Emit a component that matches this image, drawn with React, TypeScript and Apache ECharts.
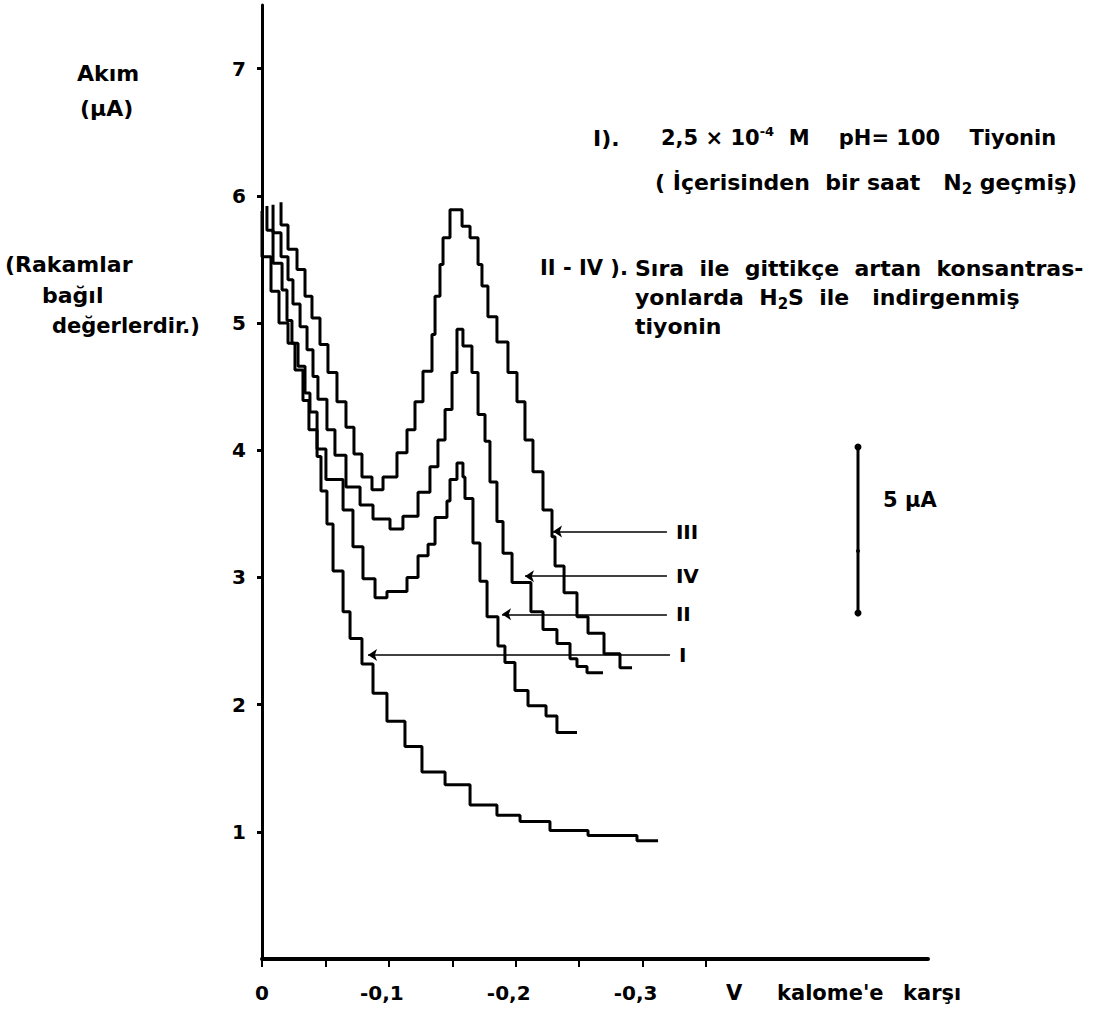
import { useEffect, useRef } from "react";
import * as echarts from "echarts";

const FONT = "DejaVu Sans";

// Axis ticks and labels
const yTickValues = [1, 2, 3, 4, 5, 6, 7];
const xTickValues = [0, -0.05, -0.1, -0.15, -0.2, -0.25, -0.3, -0.35];
const xLabelValues = [0, -0.1, -0.2, -0.3];

// Staircase polarograms: each point = (start potential of a plateau, current level of that plateau)
const curveI_V = [0, 0, -0.0071, -0.0134, -0.0205, -0.026, -0.0323, -0.037, -0.0434, -0.0465, -0.0512, -0.056, -0.0639, -0.0694, -0.0788, -0.0875, -0.0985, -0.1127, -0.1261, -0.1443, -0.164, -0.1852, -0.2034, -0.227, -0.257, -0.2956, -0.3122];
const curveI_I = [5.88, 5.52, 5.25, 5.0, 4.84, 4.63, 4.39, 4.16, 3.95, 3.68, 3.42, 3.05, 2.73, 2.52, 2.32, 2.09, 1.87, 1.67, 1.47, 1.37, 1.21, 1.13, 1.08, 1.01, 0.97, 0.93, 0.93];

const curveII_V = [-0.0039, -0.0039, -0.0087, -0.0158, -0.0197, -0.0236, -0.0284, -0.0339, -0.0378, -0.0434, -0.0504, -0.0639, -0.0717, -0.0796, -0.0891, -0.0985, -0.1143, -0.123, -0.1309, -0.1364, -0.1458, -0.1482, -0.1537, -0.1584, -0.16, -0.1663, -0.1718, -0.1774, -0.186, -0.1915, -0.1994, -0.2097, -0.2239, -0.2325, -0.2483];
const curveII_I = [5.92, 5.73, 5.47, 5.26, 5.02, 4.84, 4.66, 4.45, 4.3, 4.01, 3.77, 3.53, 3.24, 2.99, 2.84, 2.89, 3.0, 3.17, 3.26, 3.47, 3.6, 3.77, 3.9, 3.79, 3.62, 3.27, 2.97, 2.69, 2.46, 2.33, 2.11, 1.99, 1.91, 1.78, 1.78];

const curveIII_V = [-0.015, -0.015, -0.0205, -0.0276, -0.0339, -0.0394, -0.0457, -0.052, -0.0591, -0.0662, -0.0725, -0.0788, -0.0867, -0.0954, -0.1064, -0.1143, -0.1206, -0.1269, -0.134, -0.1364, -0.1403, -0.1427, -0.1482, -0.1577, -0.164, -0.1703, -0.1734, -0.1781, -0.1852, -0.1939, -0.201, -0.2073, -0.2136, -0.2215, -0.2286, -0.231, -0.2381, -0.2483, -0.257, -0.2696, -0.2822, -0.2917];
const curveIII_I = [5.95, 5.77, 5.58, 5.42, 5.21, 5.04, 4.83, 4.61, 4.38, 4.18, 3.97, 3.79, 3.69, 3.79, 3.98, 4.16, 4.38, 4.62, 4.91, 5.21, 5.46, 5.67, 5.89, 5.76, 5.67, 5.46, 5.29, 5.05, 4.85, 4.61, 4.38, 4.08, 3.83, 3.53, 3.32, 3.09, 2.88, 2.69, 2.56, 2.4, 2.29, 2.29];

const curveIV_V = [-0.0087, -0.0087, -0.015, -0.0205, -0.0244, -0.03, -0.0355, -0.0402, -0.0441, -0.0512, -0.0575, -0.0662, -0.0773, -0.0875, -0.1009, -0.1111, -0.123, -0.1324, -0.1387, -0.1443, -0.1498, -0.1537, -0.1584, -0.1655, -0.1703, -0.1758, -0.1797, -0.1852, -0.19, -0.1971, -0.212, -0.2215, -0.2325, -0.2428, -0.2483, -0.2562, -0.2688];
const curveIV_I = [5.93, 5.71, 5.52, 5.34, 5.15, 4.97, 4.79, 4.58, 4.4, 4.16, 3.96, 3.71, 3.57, 3.46, 3.38, 3.48, 3.67, 3.87, 4.08, 4.32, 4.61, 4.95, 4.82, 4.61, 4.28, 4.07, 3.75, 3.44, 3.19, 2.96, 2.73, 2.59, 2.48, 2.36, 2.3, 2.25, 2.25];

// Pointer arrows (label, level, tip potential, tail potential)
const arrowNames = ["I", "II", "III", "IV"];
const arrowLevels = [2.39, 2.71, 3.36, 3.01];
const arrowTips = [-0.0836, -0.1892, -0.2294, -0.2073];
const arrowTails = [-0.3216, -0.3192, -0.3192, -0.3192];

const pairs = (v: number[], c: number[]) => v.map((x, k) => [x, c[k]]);

const textEl = (text: string, x: number, y: number, size = 21, extra: any = {}) => ({
  type: "text",
  x,
  y,
  silent: true,
  style: {
    text,
    font: `bold ${size}px "${FONT}"`,
    fill: "#000",
    textAlign: "left",
    textVerticalAlign: "middle",
    ...extra,
  },
});

const rich = (size: number) => ({
  sup: { fontSize: Math.round(size * 0.62), fontWeight: "bold", fontFamily: FONT, verticalAlign: "top", lineHeight: size + 6 },
  sub: { fontSize: Math.round(size * 0.66), fontWeight: "bold", fontFamily: FONT, verticalAlign: "bottom", lineHeight: size + 6 },
});

export default function App() {
  const ref = useRef<HTMLDivElement>(null);
  useEffect(() => {
    const chart = echarts.init(ref.current!, null, { renderer: "svg" });
    const curves = [
      { name: "I", data: pairs(curveI_V, curveI_I) },
      { name: "II", data: pairs(curveII_V, curveII_I) },
      { name: "III", data: pairs(curveIII_V, curveIII_I) },
      { name: "IV", data: pairs(curveIV_V, curveIV_I) },
    ];
    const series = curves.map((c, k) => ({
      type: "line",
      name: c.name,
      step: "end",
      showSymbol: false,
      symbol: "none",
      silent: true,
      lineStyle: { color: "#000", width: 3 },
      data: c.data,
      markLine: {
        silent: true,
        symbol: ["none", "arrow"],
        symbolSize: 9,
        lineStyle: { color: "#000", width: 1.6, type: "solid" },
        label: {
          show: true,
          position: "start",
          distance: 9,
          formatter: arrowNames[k],
          color: "#000",
          fontSize: 20,
          fontWeight: "bold",
          fontFamily: FONT,
        },
        data: [
          [
            { coord: [arrowTails[k], arrowLevels[k]] },
            { coord: [arrowTips[k], arrowLevels[k]] },
          ],
        ],
      },
    }));

    const labelFont = { fontSize: 20, fontWeight: "bold", fontFamily: FONT, color: "#000" };

    chart.setOption({
      animation: false,
      backgroundColor: "#fff",
      grid: { left: 262, right: 185, top: 5, bottom: 58, containLabel: false, outerBoundsMode: "none" },
      xAxis: {
        type: "value",
        min: -0.525,
        max: 0,
        inverse: true,
        axisLine: { show: true, onZero: false, lineStyle: { color: "#000", width: 4 } },
        axisTick: { show: true, customValues: xTickValues, length: 8, lineStyle: { color: "#000", width: 2 } },
        axisLabel: {
          customValues: xLabelValues,
          margin: 24,
          ...labelFont,
          rich: {
            n: { ...labelFont, padding: [0, 14, 0, 0] },
            z: { ...labelFont },
          },
          formatter: (v: number) =>
            v === 0 ? "{z|0}" : "{n|-" + Math.abs(v).toFixed(1).replace(".", ",") + "}",
        },
        splitLine: { show: false },
      },
      yAxis: {
        type: "value",
        min: 0,
        max: 7.5,
        axisLine: { show: true, onZero: false, lineStyle: { color: "#000", width: 3 } },
        axisTick: { show: true, customValues: yTickValues, length: 5, lineStyle: { color: "#000", width: 3 } },
        axisLabel: {
          customValues: yTickValues,
          margin: 16,
          ...labelFont,
        },
        splitLine: { show: false },
      },
      series,
      graphic: [
        textEl("Akım", 77, 73, 22),
        textEl("(μA)", 80, 108, 22),
        textEl("(Rakamlar", 5, 264, 22),
        textEl("bağıl", 42, 295, 22),
        textEl("değerlerdir.)", 52, 326, 21),
        textEl("I).", 593, 138, 22),
        textEl("2,5 × 10{sup|-4}  M    pH= 100    Tiyonin", 661, 138, 21, { rich: rich(21) }),
        textEl("( İçerisinden  bir saat   N{sub|2} geçmiş)", 655, 182, 22, { rich: rich(22) }),
        textEl("II - IV ).", 540, 268, 21),
        textEl("Sıra  ile  gittikçe  artan  konsantras-", 635, 268, 22),
        textEl("yonlarda  H{sub|2}S  ile   indirgenmiş", 635, 297, 22, { rich: rich(22) }),
        textEl("tiyonin", 635, 326, 22),
        textEl("V", 726, 993, 21),
        textEl("kalome'e", 777, 993, 21),
        textEl("karşı", 903, 993, 21),
        textEl("5 μA", 883, 500, 21),
        { type: "line", silent: true, shape: { x1: 858, y1: 447, x2: 858, y2: 613 }, style: { stroke: "#000", lineWidth: 3 } },
        { type: "circle", silent: true, shape: { cx: 858, cy: 447, r: 3.5 }, style: { fill: "#000" } },
        { type: "circle", silent: true, shape: { cx: 858, cy: 613, r: 3.5 }, style: { fill: "#000" } },
        { type: "circle", silent: true, shape: { cx: 858, cy: 551, r: 2 }, style: { fill: "#000" } },
      ],
    });
    return () => chart.dispose();
  }, []);
  return (
    <div
      ref={ref}
      style={{ position: "fixed", left: 0, top: 0, width: 1113, height: 1017, background: "#fff" }}
    />
  );
}
